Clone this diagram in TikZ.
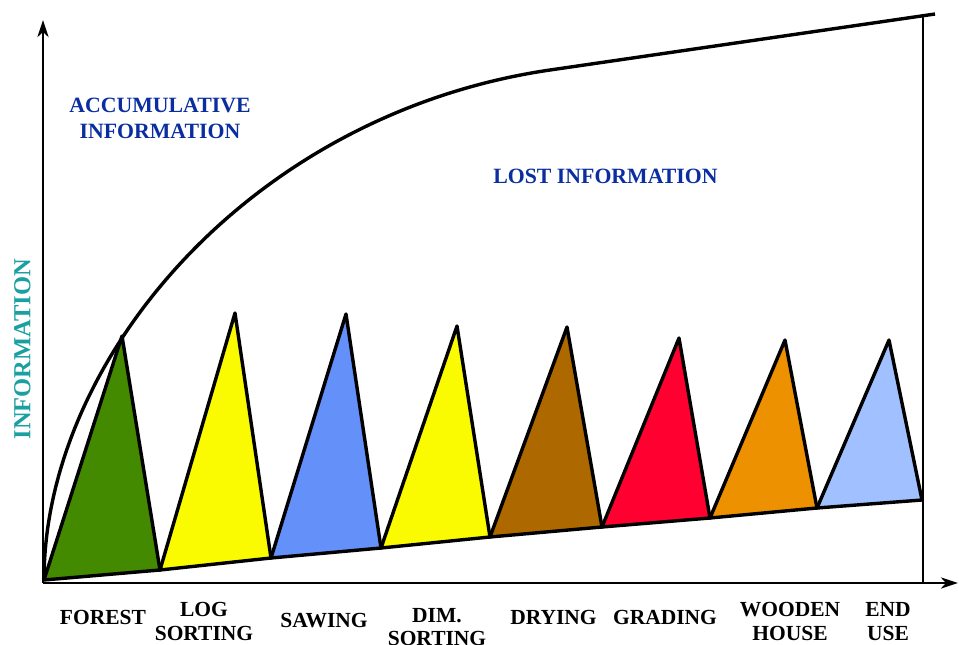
\documentclass[tikz,border=0pt]{standalone}
\usepackage{fontspec}
\setmainfont{Liberation Serif}
\usetikzlibrary{arrows.meta}

\definecolor{greenstage}{RGB}{67,138,0}
\definecolor{yellowstage}{RGB}{250,250,0}
\definecolor{bluestage}{RGB}{100,144,250}
\definecolor{brownstage}{RGB}{173,104,0}
\definecolor{redstage}{RGB}{255,0,48}
\definecolor{orangestage}{RGB}{238,145,0}
\definecolor{lightstage}{RGB}{160,192,255}
\definecolor{infoblue}{RGB}{10,45,160}
\definecolor{infoteal}{RGB}{26,160,160}

\begin{document}
\begin{tikzpicture}[x=1pt, y=-1pt,
    stage/.style={draw, line width=3.4pt, line join=round},
    axis/.style={line width=2.8pt, -{Stealth[length=17pt, width=11pt, inset=5pt]}},
    lbl/.style={font=\bfseries\fontsize{21.5}{23.5}\selectfont, align=center, inner sep=0pt},
    info/.style={lbl, text=infoblue, font=\bfseries\fontsize{21.8}{26}\selectfont}]
    \useasboundingbox (0,0) rectangle (959,645);

    % axes
    \coordinate (o) at (43,583);
    \coordinate (ytop) at (43,20);
    \coordinate (xend) at (958,583);
    \coordinate (rtop) at (923,15);
    \coordinate (rbot) at (923,583);

    % base line of the stages
    \coordinate (b0) at (44,580);
    \coordinate (b1) at (160,570);
    \coordinate (b2) at (271,558);
    \coordinate (b3) at (381,548);
    \coordinate (b4) at (490,537);
    \coordinate (b5) at (602,527);
    \coordinate (b6) at (710,518);
    \coordinate (b7) at (817,508);
    \coordinate (b8) at (922,500);

    % tops of the stages
    \coordinate (t1) at (122,336);
    \coordinate (t2) at (235,313);
    \coordinate (t3) at (346,314);
    \coordinate (t4) at (457,326);
    \coordinate (t5) at (567,327);
    \coordinate (t6) at (679,338);
    \coordinate (t7) at (785,340);
    \coordinate (t8) at (889,340);

    % accumulative curve
    \coordinate (knee) at (550,70);
    \coordinate (cend) at (935,14);

    \draw[line width=1.5pt] (rtop) -- (rbot);
    \draw[axis] (o) -- (ytop);
    \draw[axis] (o) -- (xend);

    \draw[line width=3.4pt] (b0) .. controls (44,360) and (250,114) .. (knee) -- (cend);

    \draw[stage, fill=greenstage] (b0) -- (t1) -- (b1) -- cycle;
    \draw[stage, fill=yellowstage] (b1) -- (t2) -- (b2) -- cycle;
    \draw[stage, fill=bluestage] (b2) -- (t3) -- (b3) -- cycle;
    \draw[stage, fill=yellowstage] (b3) -- (t4) -- (b4) -- cycle;
    \draw[stage, fill=brownstage] (b4) -- (t5) -- (b5) -- cycle;
    \draw[stage, fill=redstage] (b5) -- (t6) -- (b6) -- cycle;
    \draw[stage, fill=orangestage] (b6) -- (t7) -- (b7) -- cycle;
    \draw[stage, fill=lightstage] (b7) -- (t8) -- (b8) -- cycle;

    % texts
    \node[info] (accum) at (160,118.5) {ACCUMULATIVE\\INFORMATION};
    \node[info] (lost) at (605.5,176) {LOST INFORMATION};
    \node[lbl, text=infoteal, font=\bfseries\fontsize{24.5}{26}\selectfont, rotate=90] (yname) at (22.5,349) {INFORMATION};

    \node[lbl] (forest) at (103,617) {FOREST};
    \node[lbl] (logsort) at (204,621.5) {LOG\\SORTING};
    \node[lbl] (sawing) at (324,621) {SAWING};
    \node[lbl] (dimsort) at (437,627) {DIM.\\SORTING};
    \node[lbl] (drying) at (553.5,617) {DRYING};
    \node[lbl] (grading) at (665,617) {GRADING};
    \node[lbl] (house) at (790,621.5) {WOODEN\\HOUSE};
    \node[lbl] (enduse) at (888,621.5) {END\\USE};
\end{tikzpicture}
\end{document}
